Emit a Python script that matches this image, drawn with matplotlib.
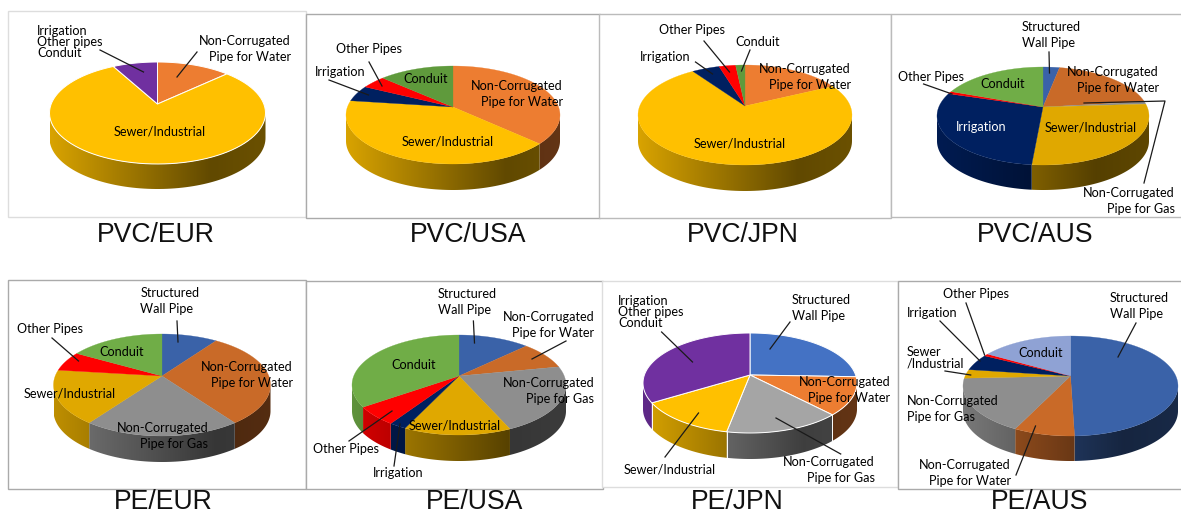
import matplotlib
matplotlib.use('Agg')
import matplotlib.pyplot as plt
from matplotlib.patches import Polygon, Rectangle
import numpy as np

# shares in percent, clockwise from 12 o'clock
pvc_eur_values = [11.1, 82.2, 6.7]
pvc_usa_values = [35.0, 44.7, 5.0, 3.9, 11.4]
pvc_jpn_values = [15.3, 76.6, 4.2, 2.5, 1.4]
pvc_aus_values = [2.5, 17.8, 0.8, 30.6, 30.8, 0.8, 16.7]
pe_eur_values = [8.3, 30.0, 23.4, 18.0, 5.9, 14.4]
pe_usa_values = [10.8, 8.3, 23.0, 16.3, 2.6, 6.7, 32.3]
pe_jpn_values = [23.0, 13.0, 17.5, 15.0, 31.5]
pe_aus_values = [49.4, 9.2, 18.9, 2.8, 5.0, 0.7, 14.0]

titles = ['PVC/EUR', 'PVC/USA', 'PVC/JPN', 'PVC/AUS', 'PE/EUR', 'PE/USA', 'PE/JPN', 'PE/AUS']

BLUE = '#4472c4'
BLUE2 = '#3a62a8'
ORANGE = '#ed7d31'
ORANGE2 = '#c96a28'
GRAY = '#a5a5a5'
GRAY2 = '#8e8e8e'
YELLOW = '#ffc000'
YELLOW2 = '#e0a800'
NAVY = '#002060'
RED = '#ff0000'
GREEN = '#70ad47'
GREEN2 = '#5f9a3c'
PURPLE = '#7030a0'
LILAC = '#8fa2d4'

WATER = 'Non-Corrugated\nPipe for Water'
GAS = 'Non-Corrugated\nPipe for Gas'
WALL = 'Structured\nWall Pipe'
SEWER = 'Sewer/Industrial'
GROUP = 'Irrigation\nOther pipes\nConduit'

# values, colours, cx, cy, rx, ry, apex y, wall depth, white edges, frame
panels = [
    (pvc_eur_values, [ORANGE, YELLOW, PURPLE], 157.5, 113, 108, 51, 104, 25, True,
     (8, 11, 306, 217, '#dddddd')),
    (pvc_usa_values, [ORANGE, YELLOW, NAVY, RED, GREEN2], 453, 115, 107, 49, 107, 26, False,
     (306, 14, 600, 218, '#aaaaaa')),
    (pvc_jpn_values, [ORANGE, YELLOW, NAVY, RED, GREEN2], 745, 115, 107, 50, 106, 26, False,
     (599, 14, 891, 218, '#bbbbbb')),
    (pvc_aus_values, [BLUE2, ORANGE2, GRAY2, YELLOW2, NAVY, RED, GREEN], 1043, 116, 106, 49, 107, 25, False,
     (891, 14, 1185, 217, '#bbbbbb')),
    (pe_eur_values, [BLUE2, ORANGE2, GRAY2, YELLOW2, RED, GREEN], 162, 385, 108.5, 51, 376, 26, False,
     (8, 280, 306, 489, '#aaaaaa')),
    (pe_usa_values, [BLUE2, ORANGE2, GRAY2, YELLOW2, NAVY, RED, GREEN], 459, 385, 107, 50, 376, 26, False,
     (306, 281, 603, 489, '#aaaaaa')),
    (pe_jpn_values, [BLUE, ORANGE, GRAY, YELLOW, PURPLE], 750, 383, 107, 50, 375, 26, True,
     (602, 281, 898, 487, '#dddddd')),
    (pe_aus_values, [BLUE2, ORANGE2, GRAY2, YELLOW2, NAVY, RED, LILAC], 1070.5, 386, 107.5, 50, 376, 25, False,
     (898, 281, 1185, 489, '#aaaaaa')),
]

TWO = 1.36
TIGHT = 0.9

# text, x, y, ha, colour, line spacing
labels = [
    (GROUP, 37, 42, 'left', 'k', TIGHT),
    (WATER, 291, 49, 'right', 'k', TWO),
    (SEWER, 160, 132, 'center', 'k', 1),
    ('Other Pipes', 368.5, 49, 'center', 'k', 1),
    ('Irrigation', 340, 72, 'center', 'k', 1),
    ('Conduit', 426, 79, 'center', 'k', 1),
    (WATER, 563, 94, 'right', 'k', TWO),
    (SEWER, 448, 142, 'center', 'k', 1),
    ('Other Pipes', 692, 30, 'center', 'k', 1),
    ('Conduit', 758, 42, 'center', 'k', 1),
    ('Irrigation', 665, 57, 'center', 'k', 1),
    (WATER, 851, 77, 'right', 'k', TWO),
    (SEWER, 740, 143, 'center', 'k', 1),
    (WALL, 1021.5, 35, 'left', 'k', TWO),
    (WATER, 1159, 80, 'right', 'k', TWO),
    ('Other Pipes', 931, 77, 'center', 'k', 1),
    ('Conduit', 1003, 84, 'center', 'k', 1),
    ('Irrigation', 981, 127, 'center', 'white', 1),
    (SEWER, 1091, 127, 'center', 'k', 1),
    (GAS, 1175, 201, 'right', 'k', TWO),
    (WALL, 140.5, 301, 'left', 'k', TWO),
    ('Other Pipes', 50, 329, 'center', 'k', 1),
    ('Conduit', 122, 352, 'center', 'k', 1),
    (WATER, 293, 375, 'right', 'k', TWO),
    (SEWER, 70, 393, 'center', 'k', 1),
    (GAS, 208, 436, 'right', 'k', TWO),
    (WALL, 438, 302, 'left', 'k', TWO),
    (WATER, 594, 325, 'right', 'k', TWO),
    (GAS, 594, 391, 'right', 'k', TWO),
    ('Conduit', 414, 365, 'center', 'k', 1),
    (SEWER, 455, 426, 'center', 'k', 1),
    ('Other Pipes', 346, 449, 'center', 'k', 1),
    ('Irrigation', 398, 473, 'center', 'k', 1),
    (GROUP, 618, 312, 'left', 'k', TIGHT),
    (WALL, 792, 308, 'left', 'k', TWO),
    (WATER, 890, 390, 'right', 'k', TWO),
    (GAS, 875, 470, 'right', 'k', TWO),
    (SEWER, 670, 469, 'center', 'k', 1),
    ('Other Pipes', 976, 294, 'center', 'k', 1),
    ('Irrigation', 932, 313, 'center', 'k', 1),
    ('Sewer\n/Industrial', 906.5, 358, 'left', 'k', TIGHT),
    ('Conduit', 1041, 353, 'center', 'k', 1),
    (WALL, 1110, 306, 'left', 'k', TWO),
    (GAS, 907, 409, 'left', 'k', TWO),
    (WATER, 1011, 473, 'right', 'k', TWO),
]

leaders = [
    [(100, 50), (143.5, 72)], [(197, 52), (177, 77)],
    [(369, 62), (382, 86)], [(329, 80), (368.5, 95)],
    [(704, 41), (729.5, 72)], [(750, 50), (741.5, 71)], [(695.5, 62), (712.5, 74)],
    [(1049, 52), (1049.5, 73)], [(923.6, 84), (952, 94)],
    [(1084, 103), (1165, 101), (1144, 183)],
    [(177, 321), (178, 342)], [(52, 338), (78.5, 361)],
    [(473.4, 321), (474.5, 343)], [(566, 341), (532, 359)],
    [(349, 441), (392, 411)], [(394, 466), (400, 424)],
    [(661.6, 332), (692.5, 362)], [(790, 322), (770, 349)],
    [(840.7, 454), (776, 418)], [(665, 457), (698.5, 413)],
    [(966, 303), (984.6, 355)], [(940, 321), (980, 361)], [(945, 371), (970.7, 375)],
    [(1136, 323), (1118, 357)], [(1016, 475), (1035.5, 426)],
]

title_spots = [(156, 235), (468, 235), (743, 235), (1035, 235),
               (163, 502), (475, 502), (737, 502), (1040, 502)]


def wall_gradient(color):
    # wall light falls off from left to right
    u = np.linspace(-1, 1, 256)
    f = np.interp(u, [-1, 0.5, 1], [0.85, 0.38, 0.42])
    return np.outer(f, matplotlib.colors.to_rgb(color))[np.newaxis, :, :]


def draw_pie(ax, values, colors, cx, cy, rx, ry, apex, depth, white):
    shares = np.array(values) / sum(values)
    edges = 90 - 360 * np.concatenate([[0], np.cumsum(shares)])

    # side wall, front half of the rim only
    for i in range(len(values)):
        lo, hi = max(edges[i + 1], -180), min(edges[i], 0)
        if lo >= hi:
            continue
        t = np.radians(np.linspace(lo, hi, 90))
        xs = cx + rx * np.cos(t)
        ys = cy - ry * np.sin(t)
        outline = np.concatenate([np.column_stack([xs, ys]),
                                  np.column_stack([xs, ys + depth])[::-1]])
        im = ax.imshow(wall_gradient(colors[i]), extent=(cx - rx, cx + rx, cy + ry + depth, cy - ry),
                       aspect='auto', interpolation='bilinear', zorder=2)
        im.set_clip_path(Polygon(outline, transform=ax.transData))

    for i in range(len(values)):
        t = np.radians(np.linspace(edges[i], edges[i + 1], 90))
        xs = np.concatenate([[cx], cx + rx * np.cos(t)])
        ys = np.concatenate([[apex], cy - ry * np.sin(t)])
        ax.fill(xs, ys, facecolor=colors[i], edgecolor='white' if white else colors[i],
                linewidth=0.7 if white else 0.2, zorder=3)
        if white and -180 < edges[i + 1] < 0:
            a = np.radians(edges[i + 1])
            x0 = cx + rx * np.cos(a)
            y0 = cy - ry * np.sin(a)
            ax.plot([x0, x0], [y0, y0 + depth], color='white', lw=0.7, zorder=3)


fig = plt.figure(figsize=(11.81, 5.16), dpi=100)
ax = fig.add_axes([0, 0, 1, 1])
ax.axis('off')

for vals, cols, cx, cy, rx, ry, apex, depth, white, frame in panels:
    x0, y0, x1, y1, fc = frame
    ax.add_patch(Rectangle((x0, y0), x1 - x0, y1 - y0, facecolor='white', edgecolor=fc, linewidth=1, zorder=1))
    draw_pie(ax, vals, cols, cx, cy, rx, ry, apex, depth, white)

for pts in leaders:
    xs, ys = zip(*pts)
    ax.plot(xs, ys, color='#1a1a1a', lw=0.9, zorder=4)

for txt, x, y, ha, col, sp in labels:
    ax.text(x, y, txt, ha=ha, va='center', color=col, fontsize=9.1, family='Lato',
            linespacing=sp, zorder=5)

for name, (x, y) in zip(titles, title_spots):
    ax.text(x, y, name, ha='center', va='center', fontsize=19.2, family='Liberation Sans', color='#111111')

# imshow moves the limits, so set them last
ax.set_xlim(0, 1181)
ax.set_ylim(516, 0)

fig.savefig('out.png', dpi=100)
